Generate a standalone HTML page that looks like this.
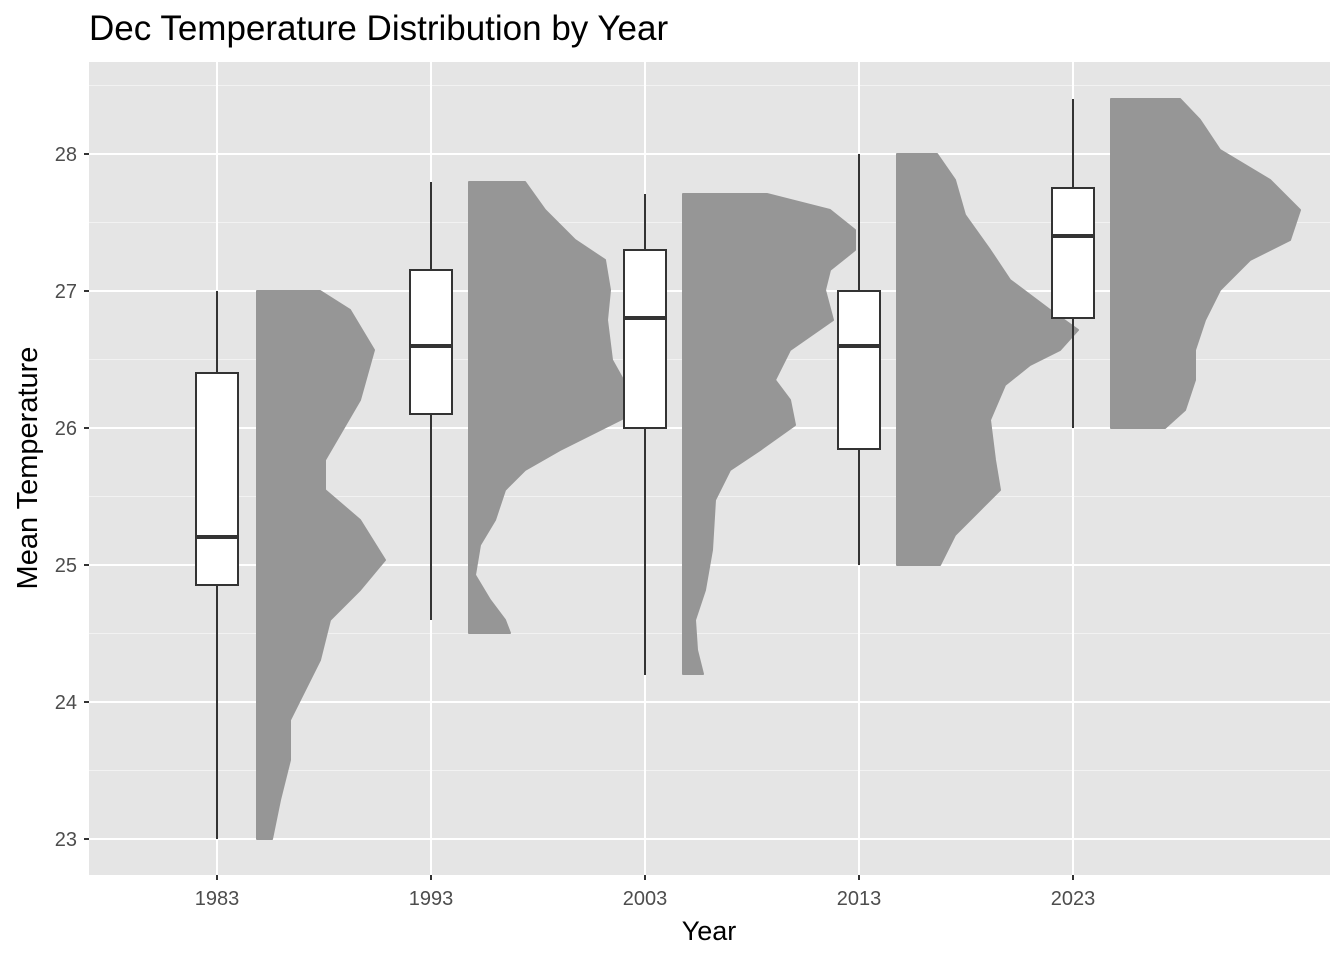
<!DOCTYPE html>
<html><head><meta charset="utf-8"><style>body{margin:0;background:#fff}svg{display:block}text{font-family:"Liberation Sans",sans-serif}</style></head>
<body>
<svg width="1344" height="960" viewBox="0 0 1344 960">
<rect x="89" y="62" width="1241" height="813" fill="#e5e5e5"/>
<g stroke="#f2f2f2" stroke-width="1">
<line x1="89" x2="1330" y1="770.5" y2="770.5"/><line x1="89" x2="1330" y1="633.5" y2="633.5"/><line x1="89" x2="1330" y1="496.5" y2="496.5"/><line x1="89" x2="1330" y1="359.5" y2="359.5"/><line x1="89" x2="1330" y1="222.5" y2="222.5"/><line x1="89" x2="1330" y1="85.5" y2="85.5"/>
</g>
<g stroke="#fff" stroke-width="2">
<line x1="89" x2="1330" y1="839" y2="839"/><line x1="89" x2="1330" y1="702" y2="702"/><line x1="89" x2="1330" y1="565" y2="565"/><line x1="89" x2="1330" y1="428" y2="428"/><line x1="89" x2="1330" y1="291" y2="291"/><line x1="89" x2="1330" y1="154" y2="154"/>
<line x1="217" x2="217" y1="62" y2="875"/><line x1="431" x2="431" y1="62" y2="875"/><line x1="645" x2="645" y1="62" y2="875"/><line x1="859" x2="859" y1="62" y2="875"/><line x1="1073" x2="1073" y1="62" y2="875"/>
</g>
<g fill="#969696" stroke="#969696" stroke-width="2" stroke-linejoin="round">
<polygon points="257,291 320,291 350,310 374,350 360,400 325,460 325,490 360,520 385,560 360,590 330,620 320,660 305,690 290,720 290,760 280,800 272,839 257,839"/>
<polygon points="469,182 525,182 545,210 575,240 605,260 610,290 607,320 612,360 640,410 560,450 525,470 505,490 495,520 480,545 475,575 490,600 505,620 510,633 469,633"/>
<polygon points="683,194 767,194 830,210 855,230 855,250 830,270 825,290 833,320 790,350 775,380 790,400 795,425 760,450 730,470 715,500 712,550 705,590 695,620 697,650 703,674 683,674"/>
<polygon points="897,154 937,154 955,180 965,215 990,250 1010,280 1050,310 1078,330 1060,350 1030,365 1005,385 990,420 995,460 1000,490 980,510 955,535 940,565 897,565"/>
<polygon points="1111,99 1180,99 1200,120 1220,150 1270,180 1300,210 1290,240 1250,260 1220,290 1205,320 1195,350 1195,380 1185,410 1165,428 1111,428"/>
</g>
<g stroke="#333" stroke-width="2" fill="#fff">
<line x1="217" x2="217" y1="291" y2="839"/><rect x="196" y="373" width="42" height="212"/><line x1="196" x2="238" y1="537" y2="537" stroke-width="4"/>
<line x1="431" x2="431" y1="182" y2="620"/><rect x="410" y="270" width="42" height="144"/><line x1="410" x2="452" y1="346" y2="346" stroke-width="4"/>
<line x1="645" x2="645" y1="194" y2="675"/><rect x="624" y="250" width="42" height="178"/><line x1="624" x2="666" y1="318" y2="318" stroke-width="4"/>
<line x1="859" x2="859" y1="154" y2="565"/><rect x="838" y="291" width="42" height="158"/><line x1="838" x2="880" y1="346" y2="346" stroke-width="4"/>
<line x1="1073" x2="1073" y1="99" y2="428"/><rect x="1052" y="188" width="42" height="130"/><line x1="1052" x2="1094" y1="236" y2="236" stroke-width="4"/>
</g>
<g stroke="#333" stroke-width="2">
<line x1="84" x2="89" y1="839" y2="839"/><line x1="84" x2="89" y1="702" y2="702"/><line x1="84" x2="89" y1="565" y2="565"/><line x1="84" x2="89" y1="428" y2="428"/><line x1="84" x2="89" y1="291" y2="291"/><line x1="84" x2="89" y1="154" y2="154"/>
<line x1="217" x2="217" y1="875" y2="880"/><line x1="431" x2="431" y1="875" y2="880"/><line x1="645" x2="645" y1="875" y2="880"/><line x1="859" x2="859" y1="875" y2="880"/><line x1="1073" x2="1073" y1="875" y2="880"/>
</g>
<g fill="#4d4d4d" font-size="20" text-anchor="end">
<text x="77" y="846">23</text><text x="77" y="709">24</text><text x="77" y="572">25</text><text x="77" y="435">26</text><text x="77" y="298">27</text><text x="77" y="161">28</text>
</g>
<g fill="#4d4d4d" font-size="20" text-anchor="middle">
<text x="217" y="905">1983</text><text x="431" y="905">1993</text><text x="645" y="905">2003</text><text x="859" y="905">2013</text><text x="1073" y="905">2023</text>
</g>
<text x="709" y="940" font-size="27" text-anchor="middle">Year</text>
<text transform="translate(37,468) rotate(-90)" font-size="29" text-anchor="middle">Mean Temperature</text>
<text x="89" y="40" font-size="35">Dec Temperature Distribution by Year</text>
</svg>
</body></html>
